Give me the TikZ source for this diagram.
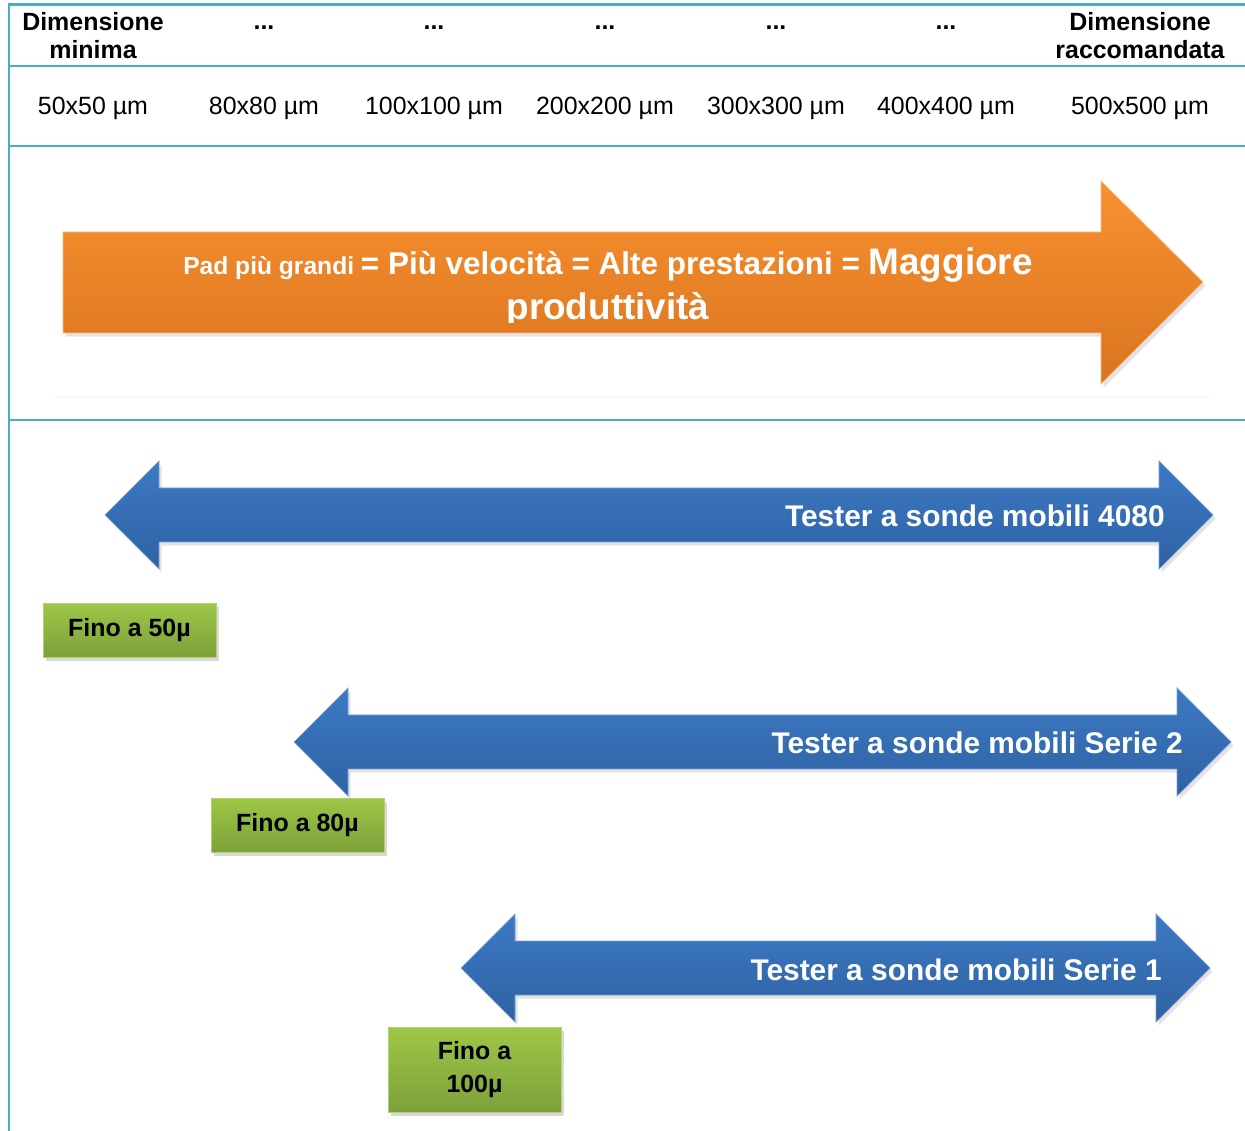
\documentclass[tikz,border=0pt]{standalone}
\usepackage{fontspec}
\setmainfont{Liberation Sans}
\usetikzlibrary{shadows}
\definecolor{tealine}{HTML}{4BACC6}
\definecolor{orgtop}{HTML}{F8912F}
\definecolor{orgbot}{HTML}{DA7420}
\definecolor{blutop}{HTML}{3C79C3}
\definecolor{blubot}{HTML}{2F62A3}
\definecolor{grntop}{HTML}{9DC747}
\definecolor{grnbot}{HTML}{7CA13A}

\begin{document}
\begin{tikzpicture}[x=0.02cm,y=-0.02cm,rul/.style ={draw=tealine,line width=1.7pt},hdr/.style ={font=\bfseries\fontsize{14.2}{15.9}\selectfont,align=center,inner sep=0pt},cel/.style ={font=\fontsize{14.2}{16}\selectfont,inner sep=0pt,anchor=base},orng/.style ={top color=orgtop,bottom color=orgbot,draw=orgtop!60!white,line width=0.4pt,drop shadow={opacity=0.22,shadow xshift=1.5pt,shadow yshift=-2pt}},blu/.style ={top color=blutop,bottom color=blubot,draw=blutop!70!white,line width=0.4pt,drop shadow={opacity=0.22,shadow xshift=1.5pt,shadow yshift=-2pt}},grn/.style ={rectangle,top color=grntop,bottom color=grnbot,draw=grntop!80!white,line width=0.4pt,minimum width=3.46cm,inner sep=0pt,align=center,font=\bfseries\fontsize{14.2}{18.7}\selectfont,drop shadow={opacity=0.3,shadow xshift=1.5pt,shadow yshift=-2pt}},wht/.style ={text=white,font=\bfseries,inner sep=0pt,anchor=base}] 
\useasboundingbox (0,0) rectangle (1245,1131);

%table rules
\draw[rul] (9,4) -- (9,1131);
\draw[rul] (8,5) -- (1245,5);
\draw[rul] (8,66) -- (1245,66);
\draw[rul] (8,146) -- (1245,146);
\draw[rul] (8,420) -- (1245,420);
\draw[gray!6,line width=0.6pt] (55,397) -- (1210,397);

%header row
\node[hdr] at (93,36) (hmin){Dimensione\\minima};
\foreach \i/\x in {1/264,2/434,3/605,4/776,5/946}
  \node[hdr,anchor=base] at (\x,30) (hd\i){...};
\node[hdr] at (1140,36) (hrac){Dimensione\\raccomandata};

%sizes row
\foreach \i/\x/\t in {1/93/50x50,2/264/80x80,3/434/100x100,4/605/200x200,5/776/300x300,6/946/400x400,7/1140/500x500}
  \node[cel] at (\x,115) (pad\i){\t{} µm};

%orange arrow
\path[orng] (63,232) -- (1101,232) -- (1101,181) -- (1203,282) -- (1101,384) -- (1101,333) -- (63,333) -- cycle;
\begin{scope}
\clip (63,232) rectangle (1101,323);
\node[wht] at (608,275) (pl1){\fontsize{14}{16}\selectfont Pad più grandi \fontsize{17.9}{20}\selectfont= Più velocità = Alte prestazioni = \fontsize{21}{24}\selectfont Maggiore};
\node[wht,font=\bfseries\fontsize{21}{24}\selectfont] at (608,320) (pl2){produttività};
\end{scope}

%blue double arrows
\foreach \n/\l/\r/\y/\t in {a/105/1213/515/4080,b/294/1231/742/Serie 2,c/461/1210/968/Serie 1}{
  \path[blu] (\l,\y) -- (\l+54,\y-54) -- (\l+54,\y-27) -- (\r-54,\y-27) -- (\r-54,\y-54) -- (\r,\y) -- (\r-54,\y+54) -- (\r-54,\y+27) -- (\l+54,\y+27) -- (\l+54,\y+54) -- cycle;
  \node[wht,anchor=base east,font=\bfseries\fontsize{17}{20}\selectfont] at (\r-48,\y+12) (tst\n){Tester a sonde mobili \t};
}

%green limits
\node[grn,minimum height=1.08cm] at (129.5,630) (fino50){Fino a 50µ};
\node[grn,minimum height=1.08cm] at (297.5,825) (fino80){Fino a 80µ};
\node[grn,minimum height=1.7cm] at (474.5,1069.5) (fino100){Fino a\\100µ};
\end{tikzpicture}
\end{document}
